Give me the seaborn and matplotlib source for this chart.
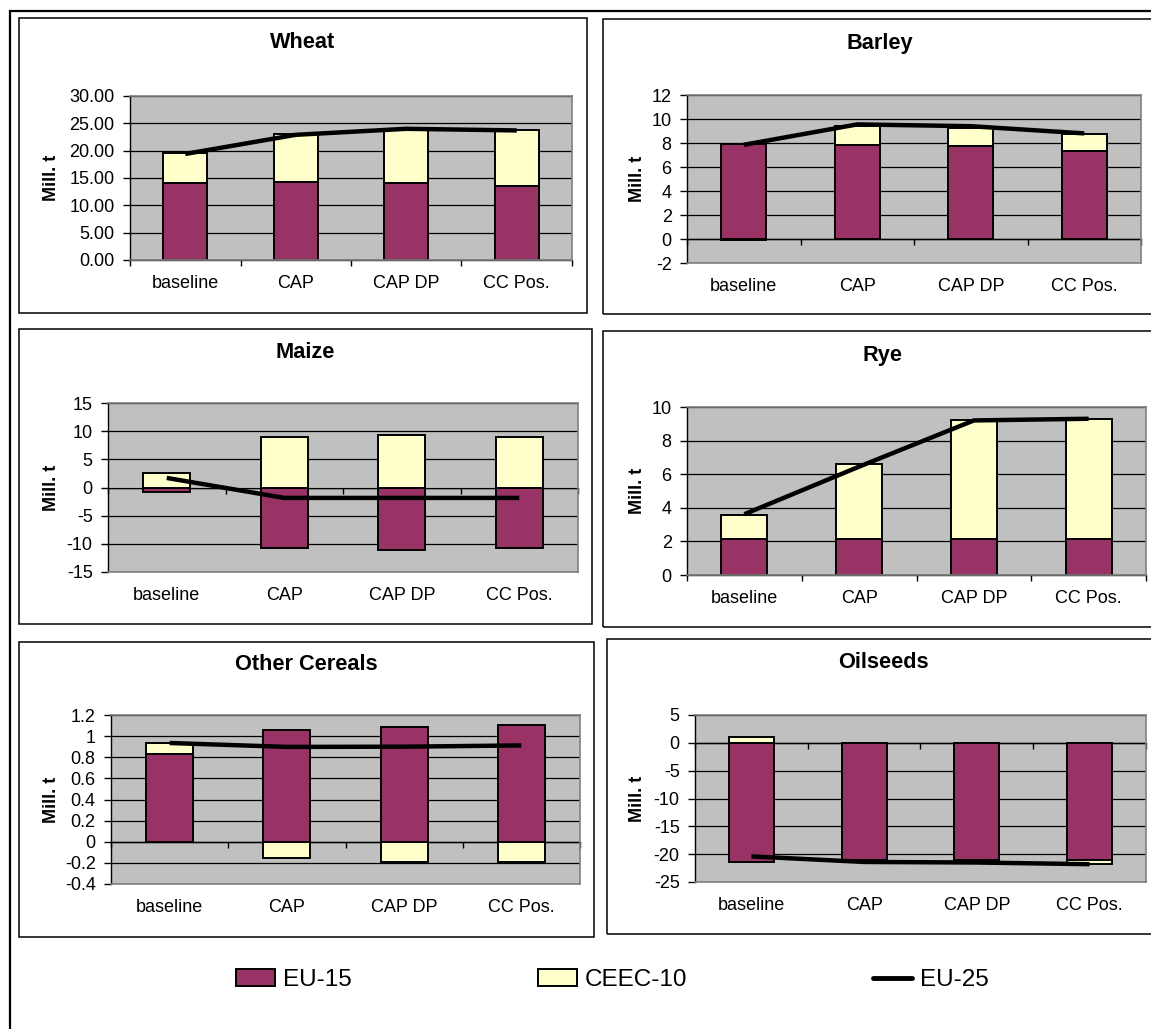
import numpy as np
import pandas as pd
import matplotlib
matplotlib.use("Agg")
import matplotlib.pyplot as plt
import seaborn as sns
from matplotlib.patches import Rectangle, Patch
from matplotlib.lines import Line2D
from matplotlib.ticker import FuncFormatter

# ---------------- data ----------------
scenarios = ["baseline", "CAP", "CAP DP", "CC Pos."]
series_names = ["EU-15", "CEEC-10", "EU-25"]
y_label = "Mill. t"

wheat_eu15 = [14.1, 14.3, 14.0, 13.6]
wheat_ceec10 = [5.4, 8.7, 9.7, 10.1]
wheat_eu25 = [19.4, 22.9, 24.0, 23.7]

barley_eu15 = [7.95, 7.82, 7.77, 7.35]
barley_ceec10 = [-0.1, 1.6, 1.45, 1.4]
barley_eu25 = [7.85, 9.55, 9.4, 8.8]

maize_eu15 = [-0.85, -10.8, -11.1, -10.7]
maize_ceec10 = [2.55, 8.95, 9.3, 8.9]
maize_eu25 = [1.7, -1.85, -1.85, -1.85]

rye_eu15 = [2.15, 2.15, 2.15, 2.15]
rye_ceec10 = [1.45, 4.45, 7.1, 7.15]
rye_eu25 = [3.62, 6.45, 9.2, 9.3]

other_eu15 = [0.83, 1.055, 1.09, 1.105]
other_ceec10 = [0.105, -0.158, -0.19, -0.193]
other_eu25 = [0.935, 0.898, 0.9, 0.912]

oil_eu15 = [-21.4, -21.0, -21.0, -21.0]
oil_ceec10 = [1.0, -0.4, -0.5, -0.75]
oil_eu25 = [-20.4, -21.4, -21.5, -21.8]

titles = ["Wheat", "Barley", "Maize", "Rye", "Other Cereals", "Oilseeds"]

# ---------------- style ----------------
sns.set_theme(style="white")
plt.rcParams["font.family"] = ["Liberation Sans", "DejaVu Sans"]
plt.rcParams["text.color"] = "black"
plt.rcParams["axes.labelcolor"] = "black"
plt.rcParams["xtick.color"] = "black"
plt.rcParams["ytick.color"] = "black"

EU15_COLOR = "#993366"
CEEC_COLOR = "#FFFFCC"
PLOT_BG = "#C0C0C0"

W, H = 1151, 1029
fig = plt.figure(figsize=(W / 100, H / 100), dpi=100)
fig.patch.set_facecolor("white")


def px_rect(x0, y0, x1, y1):
    return [x0 / W, 1 - y1 / H, (x1 - x0) / W, (y1 - y0) / H]


# outer border
fig.patches.append(Rectangle((10 / W, -0.02), 1.1, 1 - 11 / H + 0.02,
                             transform=fig.transFigure, fill=False,
                             edgecolor="black", linewidth=1.6, zorder=0))

panels = [
    dict(box=(19, 18, 587, 313), area=(130, 96, 572, 260), title=(303, 42), ylx=50,
         ylim=(0, 30), nt=7, fmt="{:.2f}",
         data=(wheat_eu15, wheat_ceec10, wheat_eu25)),
    dict(box=(603, 19, 1160, 314), area=(687, 95, 1141, 263), title=(880, 43), ylx=636,
         ylim=(-2, 12), nt=8, fmt="{:g}",
         data=(barley_eu15, barley_ceec10, barley_eu25)),
    dict(box=(19, 329, 592, 624), area=(108, 403, 578, 572), title=(305, 352), ylx=50,
         ylim=(-15, 15), nt=7, fmt="{:g}",
         data=(maize_eu15, maize_ceec10, maize_eu25)),
    dict(box=(603, 331, 1160, 627), area=(687, 407, 1146, 575), title=(882, 356), ylx=636,
         ylim=(0, 10), nt=6, fmt="{:g}",
         data=(rye_eu15, rye_ceec10, rye_eu25)),
    dict(box=(19, 642, 594, 937), area=(111, 715, 580, 884), title=(306, 664), ylx=50,
         ylim=(-0.4, 1.2), nt=9, fmt="{:g}",
         data=(other_eu15, other_ceec10, other_eu25)),
    dict(box=(607, 639, 1160, 934), area=(695, 715, 1146, 882), title=(883, 663), ylx=636,
         ylim=(-25, 5), nt=7, fmt="{:g}",
         data=(oil_eu15, oil_ceec10, oil_eu25)),
]

for title, p in zip(titles, panels):
    bx0, by0, bx1, by1 = p["box"]
    fig.patches.append(Rectangle((bx0 / W, 1 - by1 / H), (bx1 - bx0) / W, (by1 - by0) / H,
                                 transform=fig.transFigure, fill=False,
                                 edgecolor="black", linewidth=1.1, zorder=0))
    fig.text(p["title"][0] / W, 1 - p["title"][1] / H, title, ha="center", va="center",
             fontsize=15.7, fontweight="bold")

    ax0, ay0, ax1, ay1 = p["area"]
    ax = fig.add_axes(px_rect(ax0, ay0, ax1, ay1))
    ax.set_facecolor(PLOT_BG)

    eu15, ceec, eu25 = p["data"]
    eu15a = np.asarray(eu15, dtype=float)
    ceeca = np.asarray(ceec, dtype=float)
    ceec_bottom = np.where(np.sign(ceeca) == np.sign(eu15a), eu15a, 0.0)
    df = pd.DataFrame({"scenario": scenarios, "EU-15": eu15a, "CEEC-10": ceeca})

    sns.barplot(data=df, x="scenario", y="EU-15", order=scenarios, color=EU15_COLOR,
                saturation=1, width=0.4, edgecolor="black", linewidth=1.4,
                errorbar=None, ax=ax, zorder=2)
    sns.barplot(data=df, x="scenario", y="CEEC-10", order=scenarios, color=CEEC_COLOR,
                saturation=1, width=0.4, edgecolor="black", linewidth=1.4,
                errorbar=None, bottom=ceec_bottom, ax=ax, zorder=2)
    sns.lineplot(x=np.arange(len(scenarios)), y=eu25, color="black", linewidth=3.2,
                 errorbar=None, sort=False, ax=ax, zorder=4, solid_capstyle="butt")

    ymin, ymax = p["ylim"]
    ax.set_ylim(ymin, ymax)
    ax.set_xlim(-0.5, len(scenarios) - 0.5)
    ax.set_yticks(np.linspace(ymin, ymax, p["nt"]))
    fmt = p["fmt"]
    ax.yaxis.set_major_formatter(FuncFormatter(lambda v, pos, f=fmt: f.format(round(v, 6) + 0.0)))
    ax.set_xticks(np.arange(len(scenarios)))
    ax.set_xticklabels(scenarios)
    ax.set_xlabel("")
    ax.set_ylabel(y_label, fontsize=13, fontweight="bold")
    ax.yaxis.set_label_coords((p["ylx"] + 10 - ax0) / (ax1 - ax0), 0.5)

    ax.grid(axis="y", color="black", linewidth=0.9)
    ax.grid(axis="x", visible=False)
    ax.set_axisbelow(True)

    ax.tick_params(axis="y", direction="out", length=5, width=1, color="black",
                   labelsize=13, pad=6, left=True)
    ax.tick_params(axis="x", length=0, labelsize=13, pad=11, bottom=True)
    for side in ["top", "right", "bottom"]:
        ax.spines[side].set_visible(True)
        ax.spines[side].set_color("#808080")
        ax.spines[side].set_linewidth(1.2)
    ax.spines["left"].set_visible(True)
    ax.spines["left"].set_color("black")
    ax.spines["left"].set_linewidth(1.0)

    # category axis crossing at zero, tick marks between categories
    zero_frac = (0 - ymin) / (ymax - ymin)
    sec = ax.secondary_xaxis(zero_frac)
    sec.set_alignment("bottom")
    sec.set_xticks(np.arange(len(scenarios) + 1) - 0.5)
    sec.tick_params(axis="x", direction="out", length=4.5, width=1, color="black",
                    labelbottom=False, labeltop=False)
    sec.spines["bottom"].set_color("black")
    sec.spines["bottom"].set_linewidth(1.0)

handles = [Patch(facecolor=EU15_COLOR, edgecolor="black", linewidth=1.4),
           Patch(facecolor=CEEC_COLOR, edgecolor="black", linewidth=1.4),
           Line2D([], [], color="black", linewidth=3.5)]
fig.legend(handles=handles, labels=series_names, loc="center",
           bbox_to_anchor=(612.5 / W, 1 - 980 / H), ncol=3, frameon=False,
           fontsize=17.5, handlelength=1.6, handleheight=0.66, handletextpad=0.33,
           columnspacing=7.65)

fig.savefig("out.png", dpi=100)
